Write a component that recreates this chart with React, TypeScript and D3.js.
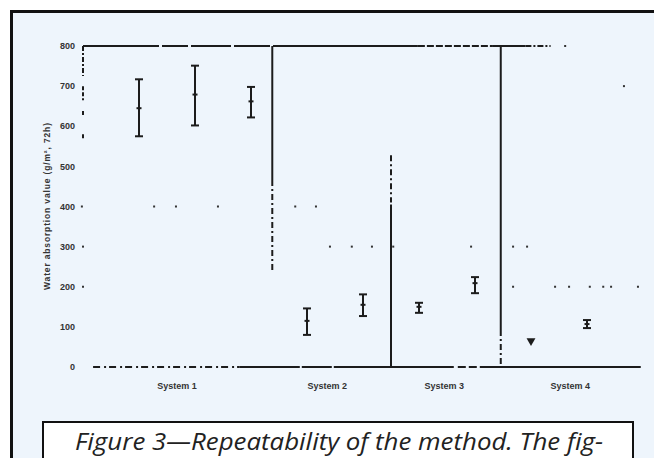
import React from 'react';
import * as d3 from 'd3';

const width = 654;
const height = 458;

// sample index along x (1..9), systems split by dividers
const systems = ['System 1', 'System 2', 'System 3', 'System 4'];
const systemLabelPos = [1.68, 4.36, 6.45, 8.7];
const dividerPos = [3.38, 5.5, 7.46];

const sampleIndex = [1, 2, 3, 4, 5, 6, 7, 8, 9];
const means = [645, 679, 662, 115, 155, 150, 209, 65, 107];
const lows = [575, 602, 622, 80, 127, 135, 184, null, 97];
const highs = [717, 751, 698, 146, 181, 160, 224, null, 117];

const yTicks = [0, 100, 200, 300, 400, 500, 600, 700, 800];
const yLabel = 'Water absorption value (g/m², 72h)';
const caption = 'Figure 3—Repeatability of the method. The fig-';

// faded remains of the dotted grid in the scan: [value, sample positions]
const gridRows: [number, number[]][] = [
  [400, [-0.02, 1.27, 1.66, 2.41, 3.79, 4.16]],
  [300, [0, 4.41, 4.8, 5.16, 5.54, 6.93, 7.68, 7.93]],
  [200, [0, 7.68, 8.43, 8.68, 9.05, 9.29, 9.43, 9.91]],
  [700, [9.66]],
  [800, [8.61]]
];

// broken pieces of the left axis (value ranges)
const leftAxisPieces = [[800, 725], [700, 665], [638, 628], [580, 566]];

// divider segments: [solid from, solid to, dashed from, dashed to]
const dividerSegments = [
  [800, 466, 466, 242],
  [405, 0, 528, 410],
  [800, 92, 92, 0]
];

const x = d3.scaleLinear().domain([0, 10]).range([83, 643]);
const y = d3.scaleLinear().domain([0, 800]).range([367, 46]);

const ink = '#1c1c1c';

export default function App() {
  const tri = d3.symbol().type(d3.symbolTriangle).size(34)();

  return (
    <svg
      width={width}
      height={height}
      style={{ position: 'absolute', left: 0, top: 0, background: '#fff' }}
    >
      {/* scanned page frame */}
      <rect x={11.5} y={11.5} width={width} height={height} fill="#eef5fc" stroke="#111" strokeWidth={3} />

      {/* y tick labels */}
      {yTicks.map(t => (
        <text
          key={t}
          x={75}
          y={y(t)}
          dy="0.35em"
          textAnchor="end"
          fontFamily="Liberation Sans, Arial, sans-serif"
          fontSize={9}
          fontWeight="bold"
          fill="#333"
        >
          {t}
        </text>
      ))}

      <text
        transform={`translate(47, ${y(400)}) rotate(-90)`}
        textAnchor="middle"
        fontFamily="Liberation Sans, Arial, sans-serif"
        fontSize={8.5}
        fontWeight="bold"
        fill="#333"
        dy="0.35em"
        textLength={167}
      >
        {yLabel}
      </text>

      {/* left axis, broken */}
      {leftAxisPieces.map(([a, b], i) => (
        <line key={i} x1={x(0)} x2={x(0)} y1={y(a)} y2={y(b)} stroke={ink} strokeWidth={2}
          strokeDasharray={i === 0 ? '5 2 2 2' : '4 2'} />
      ))}

      {/* top frame line */}
      <line x1={x(0)} x2={x(5.98)} y1={y(800)} y2={y(800)} stroke={ink} strokeWidth={2}
        strokeDasharray="76 3 26 3 40 3 36 3 190 3" />
      <line x1={x(5.98)} x2={x(7.32)} y1={y(800)} y2={y(800)} stroke={ink} strokeWidth={2} strokeDasharray="7 2" />
      <line x1={x(7.32)} x2={x(7.9)} y1={y(800)} y2={y(800)} stroke={ink} strokeWidth={2} />
      <line x1={x(7.9)} x2={x(8.35)} y1={y(800)} y2={y(800)} stroke={ink} strokeWidth={2} strokeDasharray="6 2 2 2" />

      {/* bottom line */}
      <line x1={x(0.18)} x2={x(2.8)} y1={y(0)} y2={y(0)} stroke={ink} strokeWidth={2} strokeDasharray="7 4 2 3" />
      <line x1={x(2.8)} x2={x(9.96)} y1={y(0)} y2={y(0)} stroke={ink} strokeWidth={2}
        strokeDasharray="60 2 30 2 120 4 8 3 8 3 400" />

      {/* panel dividers */}
      {dividerPos.map((p, i) => {
        const [s0, s1, d0, d1] = dividerSegments[i];
        return (
          <g key={p}>
            <line x1={x(p)} x2={x(p)} y1={y(s0)} y2={y(s1)} stroke={ink} strokeWidth={2} />
            <line x1={x(p)} x2={x(p)} y1={y(d0)} y2={y(d1)} stroke={ink} strokeWidth={2} strokeDasharray="6 3 2 3" />
          </g>
        );
      })}

      {/* grid remains */}
      {gridRows.map(([v, ps]) =>
        ps.map((p, j) => (
          <rect key={`${v}-${j}`} x={x(p) - 1} y={y(v) - 1} width={2} height={2} fill="#333" />
        ))
      )}

      {/* error bars */}
      {sampleIndex.map((s, i) => {
        const cx = x(s);
        if (lows[i] == null) {
          return (
            <path key={s} d={tri} transform={`translate(${cx}, ${y(means[i])}) rotate(180)`} fill={ink} />
          );
        }
        const yl = y(lows[i] as number);
        const yh = y(highs[i] as number);
        return (
          <g key={s} stroke={ink} strokeWidth={2}>
            <line x1={cx} x2={cx} y1={yh} y2={yl} />
            <line x1={cx - 4} x2={cx + 4} y1={yh} y2={yh} />
            <line x1={cx - 4} x2={cx + 4} y1={yl} y2={yl} />
            <line x1={cx - 2.5} x2={cx + 2.5} y1={y(means[i])} y2={y(means[i])} />
          </g>
        );
      })}

      {/* system labels */}
      {systems.map((name, i) => (
        <text
          key={name}
          x={x(systemLabelPos[i])}
          y={389}
          textAnchor="middle"
          fontFamily="Liberation Sans, Arial, sans-serif"
          fontSize={9}
          fontWeight="bold"
          fill="#333"
        >
          {name}
        </text>
      ))}

      {/* caption box */}
      <rect x={43} y={422} width={590} height={60} fill="#fff" stroke="#111" strokeWidth={2} />
      <text
        x={75}
        y={450}
        fontFamily="'Open Sans', Lato, sans-serif"
        fontStyle="italic"
        fontSize={23}
        fill="#222"
        textLength={528}
        lengthAdjust="spacingAndGlyphs"
      >
        {caption}
      </text>
    </svg>
  );
}
